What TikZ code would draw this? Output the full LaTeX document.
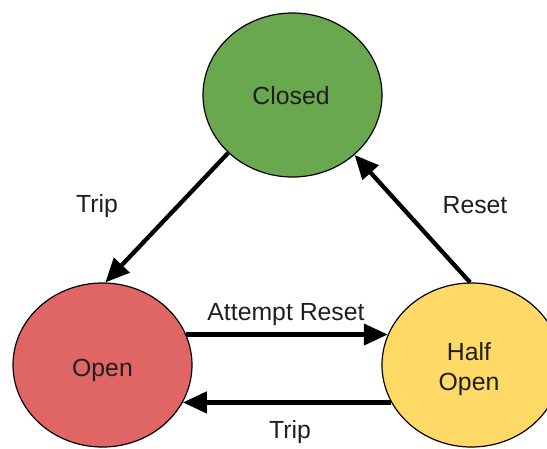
\documentclass[tikz,border=0pt]{standalone}
\usepackage{fontspec}
\setmainfont{Liberation Sans}
\usetikzlibrary{shapes.geometric,arrows.meta}
\definecolor{cgreen}{HTML}{6AA84F}
\definecolor{cred}{HTML}{E06666}
\definecolor{cyellow}{HTML}{FFD966}
\begin{document}
\begin{tikzpicture}[x=1pt,y=-1pt,
  state/.style={ellipse,draw=black,line width=1.2pt,minimum width=179pt,minimum height=164pt,inner sep=0pt},
  lbl/.style={font=\fontsize{24.8}{29.7}\selectfont,text=black!88,inner sep=0pt,anchor=base},
  conn/.style={line width=4.3pt,-{Triangle[length=24pt,width=21pt]}}]
\useasboundingbox (0,0) rectangle (547,448);
\clip (0,0) rectangle (547,448);
\node[state,fill=cgreen] (closed) at (292.5,95) {};
\node[state,fill=cred] (open) at (102.5,365) {};
\node[state,fill=cyellow] (half) at (471.5,365) {};
\node[lbl] (tclosed) at (291,104) {Closed};
\node[lbl] (topen) at (102.5,376) {Open};
\node[lbl,align=center] (thalf) at (469,390.5) {Half\\Open};
\draw[conn] (closed.222.5) -- (open.88);
\draw[conn] (half.91) -- (closed.316);
\draw[conn] (open.20) -- (half.160);
\draw[conn] (half.205) -- (open.335);
\node[lbl] (l1) at (97,212.5) {Trip};
\node[lbl] (l2) at (475,213) {Reset};
\node[lbl] (l3) at (286,320) {Attempt Reset};
\node[lbl] (l4) at (290,438.5) {Trip};
\end{tikzpicture}
\end{document}
